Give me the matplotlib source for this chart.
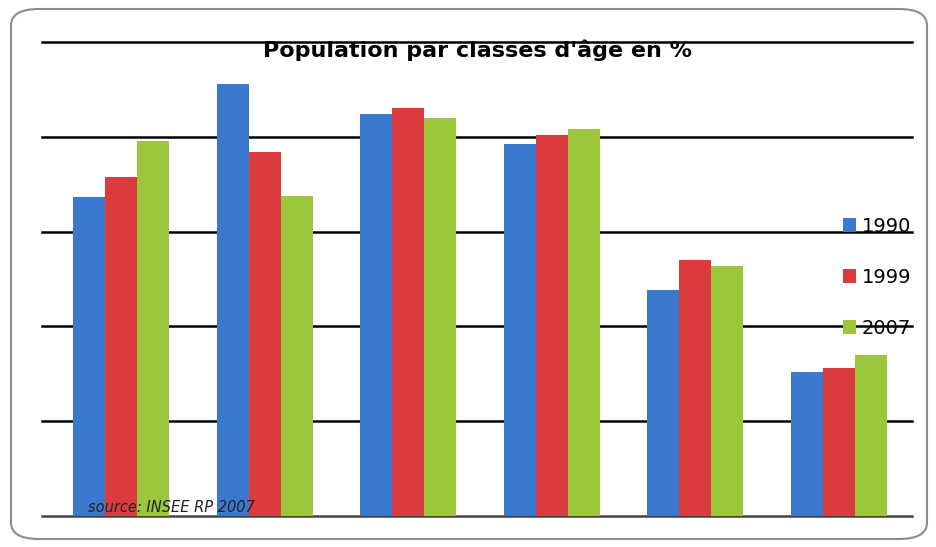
import matplotlib.pyplot as plt
import numpy as np
from matplotlib.patches import FancyBboxPatch

# data (gridline step = 5)
groups = ['0-14', '15-29', '30-44', '45-59', '60-74', '75+']
years = ['1990', '1999', '2007']
v1990 = [16.8, 22.8, 21.2, 19.6, 11.9, 7.6]
v1999 = [17.9, 19.2, 21.5, 20.1, 13.5, 7.8]
v2007 = [19.8, 16.9, 21.0, 20.4, 13.2, 8.5]
colors = ['#3b78d0', '#dc3b3e', '#9cc73d']

fig = plt.figure(figsize=(9.36, 5.47), dpi=100)

# rounded outer frame, drawn below the axes
frame = FancyBboxPatch((11 / 936, 8 / 547), 916 / 936, 530 / 547,
                       boxstyle='round,pad=0,rounding_size=0.03',
                       transform=fig.transFigure, facecolor='none',
                       edgecolor='#8c8c8c', linewidth=1.5, zorder=-1)
fig.patches.append(frame)

ax = fig.add_axes([42 / 936, (547 - 516) / 547, 870 / 936, (516 - 42) / 547])
ax.set_facecolor('none')

x = np.arange(len(groups))
w = 0.223
for i, (vals, c) in enumerate(zip([v1990, v1999, v2007], colors)):
    ax.bar(x + (i - 1) * w, vals, w, color=c, label=years[i], zorder=2)

ax.set_xlim(-0.55, 5.51)
ax.set_ylim(0, 25)
ax.set_yticks([0, 5, 10, 15, 20, 25])
ax.yaxis.grid(True, color='black', linewidth=1.8, zorder=1)
ax.set_axisbelow(True)
for gl in ax.get_ygridlines():
    gl.set_clip_on(False)
ax.get_ygridlines()[0].set_color('#444444')
ax.tick_params(left=False, bottom=False, labelleft=False, labelbottom=False)
for s in ax.spines.values():
    s.set_visible(False)

fig.text(478 / 936, 1 - 50 / 547, "Population par classes d'âge en %",
         ha='center', va='center', fontsize=16, fontweight='bold',
         family=['Liberation Sans Narrow', 'DejaVu Sans'])

leg = ax.legend(loc='center left', bbox_to_anchor=(0.9, 0.504), frameon=False,
                fontsize=14, handlelength=0.7, handleheight=0.7,
                handletextpad=0.3, labelspacing=1.65)
leg.set_zorder(3)

fig.text(88 / 936, 1 - 508 / 547, 'source: INSEE RP 2007', ha='left',
         va='center', fontsize=10.5, style='italic', color='#222222',
         family=['Liberation Sans Narrow', 'DejaVu Sans'])

fig.savefig('out.png', dpi=100)
